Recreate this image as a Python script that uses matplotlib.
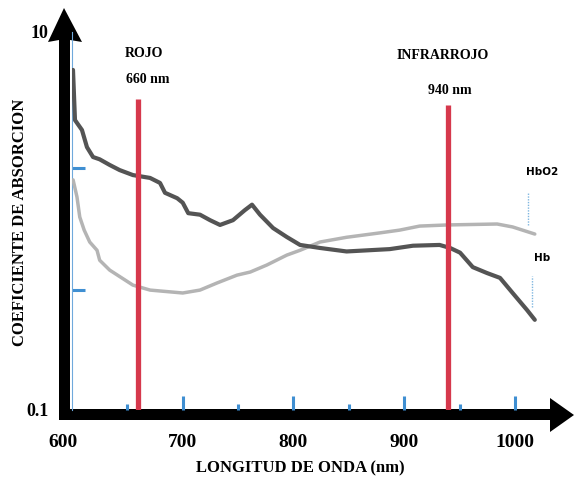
import matplotlib
matplotlib.use("Agg")
import matplotlib.pyplot as plt
import matplotlib.transforms as mtransforms
from matplotlib.ticker import FixedLocator, NullFormatter, FixedFormatter
from matplotlib.patches import Polygon

# ---- data ----
hb_nm = [600.9, 602.7, 609, 613.5, 619, 625, 634, 643, 655, 670.5, 679.5, 684, 695, 700, 705,
         715.6, 724.7, 733.7, 745.4, 756, 762.6, 769.8, 781.6, 794, 806, 824, 848, 887, 908,
         932, 941.5, 950.5, 962, 975, 986.6, 998, 1011, 1018]
hb_val = [6.3, 3.42, 3.03, 2.46, 2.18, 2.12, 1.98, 1.86, 1.75, 1.69, 1.59, 1.41, 1.32, 1.25, 1.10,
          1.08, 1.01, 0.953, 1.01, 1.14, 1.22, 1.08, 0.918, 0.823, 0.747, 0.72, 0.69, 0.71, 0.74,
          0.747, 0.72, 0.68, 0.57, 0.53, 0.50, 0.416, 0.338, 0.30]

hbo2_nm = [601, 604.5, 607, 611, 616, 622.6, 625, 634, 655, 670.5, 700, 715.6, 731, 749, 761,
           776, 794, 806, 824, 848, 878, 896, 914, 939, 984, 998, 1018]
hbo2_val = [1.65, 1.34, 1.05, 0.895, 0.774, 0.70, 0.62, 0.55, 0.458, 0.431, 0.416, 0.431, 0.47,
            0.517, 0.537, 0.585, 0.66, 0.70, 0.774, 0.82, 0.865, 0.895, 0.94, 0.953, 0.964, 0.93, 0.853]

red_nm = [660, 940]
red_top = [4.4, 4.1]
red_band = ["ROJO", "INFRARROJO"]
red_label = ["660 nm", "940 nm"]

x_ticks = [600, 700, 800, 900, 1000]
x_minor = [650, 750, 850, 950]
y_ticks = [0.1, 10]
y_tick_labels = ["0.1", "10"]
y_minor = [0.43, 1.9]

# ---- figure ----
W, H = 574, 483
fig = plt.figure(figsize=(W / 100, H / 100), dpi=100)
serif = "Liberation Serif"

ax = fig.add_axes([72 / W, (H - 410) / H, (537 - 72) / W, 378 / H])
ax.set_xlim(600, 1020)
ax.set_yscale("log")
ax.set_ylim(0.1, 10)

blue = "#3f8fd2"
ax.plot(hbo2_nm, hbo2_val, color="#b4b4b4", lw=2.5, solid_capstyle="round",
        solid_joinstyle="round", zorder=3)
ax.plot(hb_nm, hb_val, color="#545454", lw=3.0, solid_capstyle="round",
        solid_joinstyle="round", zorder=4)
ax.vlines(red_nm, 0.1, red_top, color="#d6384c", lw=3.8, zorder=5)

ax.text(665, 7.7, red_band[0], ha="center", va="center", family=serif, weight="bold", fontsize=10)
ax.text(668.6, 5.6, red_label[0], ha="center", va="center", family=serif, weight="bold", fontsize=10)
ax.text(935, 7.55, red_band[1], ha="center", va="center", family=serif, weight="bold", fontsize=10)
ax.text(941.5, 4.93, red_label[1], ha="center", va="center", family=serif, weight="bold", fontsize=10)

ax.vlines([1012], 0.95, 1.42, color="#7fb6e0", lw=1.0, linestyles=(0, (1, 1)))
ax.vlines([1015.5], 0.35, 0.51, color="#7fb6e0", lw=1.0, linestyles=(0, (1, 1)))
ax.text(1025, 1.82, "HbO2", ha="center", va="center", family="DejaVu Sans", weight="bold",
        fontsize=7.5, clip_on=False)
ax.text(1025, 0.64, "Hb", ha="center", va="center", family="DejaVu Sans", weight="bold",
        fontsize=7.5, clip_on=False)

# ticks
ax.xaxis.set_major_locator(FixedLocator(x_ticks))
ax.xaxis.set_major_formatter(FixedFormatter([str(v) for v in x_ticks]))
ax.xaxis.set_minor_locator(FixedLocator(x_minor))
ax.xaxis.set_minor_formatter(NullFormatter())
ax.tick_params(axis="x", which="major", direction="in", length=10, width=2.2, color=blue, pad=17)
ax.tick_params(axis="x", which="minor", direction="in", length=4.5, width=2.2, color=blue)
fig.canvas.draw()
first = ax.xaxis.get_major_ticks()[0]
first.tick1line.set_visible(False)
for lab in ax.get_xticklabels():
    lab.set_fontfamily(serif)
    lab.set_fontweight("bold")
    lab.set_fontsize(14)
shift = mtransforms.ScaledTranslation(-9 / 100, 0, fig.dpi_scale_trans)
first.label1.set_transform(first.label1.get_transform() + shift)

ax.yaxis.set_major_locator(FixedLocator(y_ticks))
ax.yaxis.set_major_formatter(FixedFormatter(y_tick_labels))
ax.yaxis.set_minor_locator(FixedLocator(y_minor))
ax.yaxis.set_minor_formatter(NullFormatter())
ax.tick_params(axis="y", which="major", length=0, pad=17)
ax.tick_params(axis="y", which="minor", direction="in", length=9, width=2.2, color=blue)
for lab in ax.get_yticklabels():
    lab.set_fontfamily(serif)
    lab.set_fontweight("bold")
    lab.set_fontsize(13)

for s in ["top", "right", "bottom"]:
    ax.spines[s].set_visible(False)
ax.spines["left"].set_color("#6fa9dc")
ax.spines["left"].set_linewidth(0.8)
ax.patch.set_alpha(0)

# labels
fig.text(300 / W, 1 - 468 / H, "LONGITUD DE ONDA (nm)", ha="center", va="center",
         family=serif, weight="bold", fontsize=12)
fig.text(20 / W, 1 - 222 / H, "COEFICIENTE DE ABSORCION", ha="center", va="center",
         rotation=90, family=serif, weight="bold", fontsize=12)

# black arrow axes (decoration, in pixel coordinates)
ov = fig.add_axes([0, 0, 1, 1], zorder=-1)
ov.set_xlim(0, W)
ov.set_ylim(H, 0)
ov.axis("off")
ov.patch.set_alpha(0)
ov.add_patch(Polygon([(59, 420), (59, 40), (48, 42), (64, 8), (82, 42), (70, 40), (70, 409),
                      (550, 409), (550, 398), (574, 415), (550, 432), (550, 420)],
                     closed=True, facecolor="black", edgecolor="none"))

fig.savefig("out.png", dpi=100)
